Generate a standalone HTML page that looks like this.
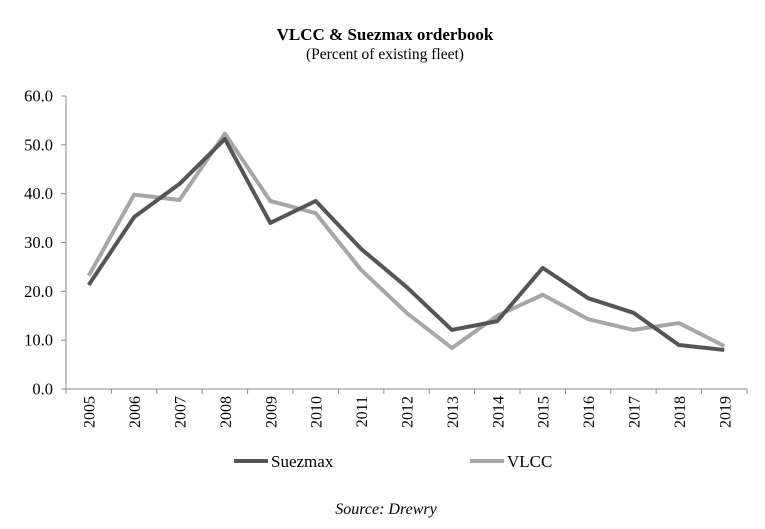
<!DOCTYPE html>
<html><head><meta charset="utf-8"><style>
body{margin:0;background:#fff;}
svg{display:block;font-family:"Liberation Serif",serif;}
</style></head><body>
<svg width="765" height="529" id="chart">
<text x="385" y="40" text-anchor="middle" font-size="17" font-weight="bold">VLCC &amp; Suezmax orderbook</text>
<text x="385" y="59" text-anchor="middle" font-size="15.5">(Percent of existing fleet)</text>
<g id="axes"></g>
<g id="series"></g>
<g>
<line x1="234" y1="461" x2="268" y2="461" stroke="#555" stroke-width="4"/>
<text x="271" y="467" font-size="17">Suezmax</text>
<line x1="470" y1="461" x2="504" y2="461" stroke="#a6a6a6" stroke-width="4"/>
<text x="507" y="467" font-size="17">VLCC</text>
</g>
<text x="386" y="514" text-anchor="middle" font-size="16" font-style="italic">Source: Drewry</text>
</svg>
<script>
const categories=["2005","2006","2007","2008","2009","2010","2011","2012","2013","2014","2015","2016","2017","2018","2019"];
const suezmax=[21.3,35.2,42.0,51.2,34.0,38.5,28.7,20.9,12.1,13.9,24.8,18.6,15.6,9.0,8.0];
const vlcc=[23.2,39.8,38.7,52.3,38.5,36.0,24.4,15.6,8.4,15.0,19.3,14.3,12.1,13.5,8.8];
const yTicks=[0,10,20,30,40,50,60];
const NS="http://www.w3.org/2000/svg";
const L=66,R=747,T=96,B=389,yMax=60;
const band=(R-L)/categories.length;
const xs=i=>L+band*(i+0.5);
const ys=v=>B-(v/yMax)*(B-T);
function mk(tag,attrs,parent){const e=document.createElementNS(NS,tag);for(const k in attrs)e.setAttribute(k,attrs[k]);parent.appendChild(e);return e;}
const ax=document.getElementById('axes');
let e=mk('line',{x1:L,y1:T,x2:L,y2:B,stroke:'#888','stroke-width':1},ax);


e=mk('line',{x1:L,y1:B,x2:R,y2:B,stroke:'#888','stroke-width':1},ax);


yTicks.forEach(v=>{
 const y=ys(v);
 mk('line',{x1:L-5,y1:y,x2:L,y2:y,stroke:'#888'},ax);
 const t=mk('text',{x:53,y:y+5.5,'text-anchor':'end','font-size':16.5},ax);
 t.textContent=v.toFixed(1);
 
 
});
for(let i=0;i<=categories.length;i++){mk('line',{x1:L+band*i,y1:B,x2:L+band*i,y2:B+5,stroke:'#888'},ax);}
categories.forEach((c,i)=>{
 const x=xs(i)+6;
 const t=mk('text',{x:x,y:B+7,'text-anchor':'end','font-size':16,transform:`rotate(-90 ${x} ${B+7})`},ax);
 t.textContent=c;
 
 
});
const sg=document.getElementById('series');
function line(vals,color,name){
 const p=mk('polyline',{points:vals.map((v,i)=>xs(i)+','+ys(v)).join(' '),fill:'none',stroke:color,'stroke-width':4,'stroke-linejoin':'round'},sg);
 
 
}
line(vlcc,'#a6a6a6','vlcc-line');
line(suezmax,'#555555','suezmax-line');
</script>
</body></html>
